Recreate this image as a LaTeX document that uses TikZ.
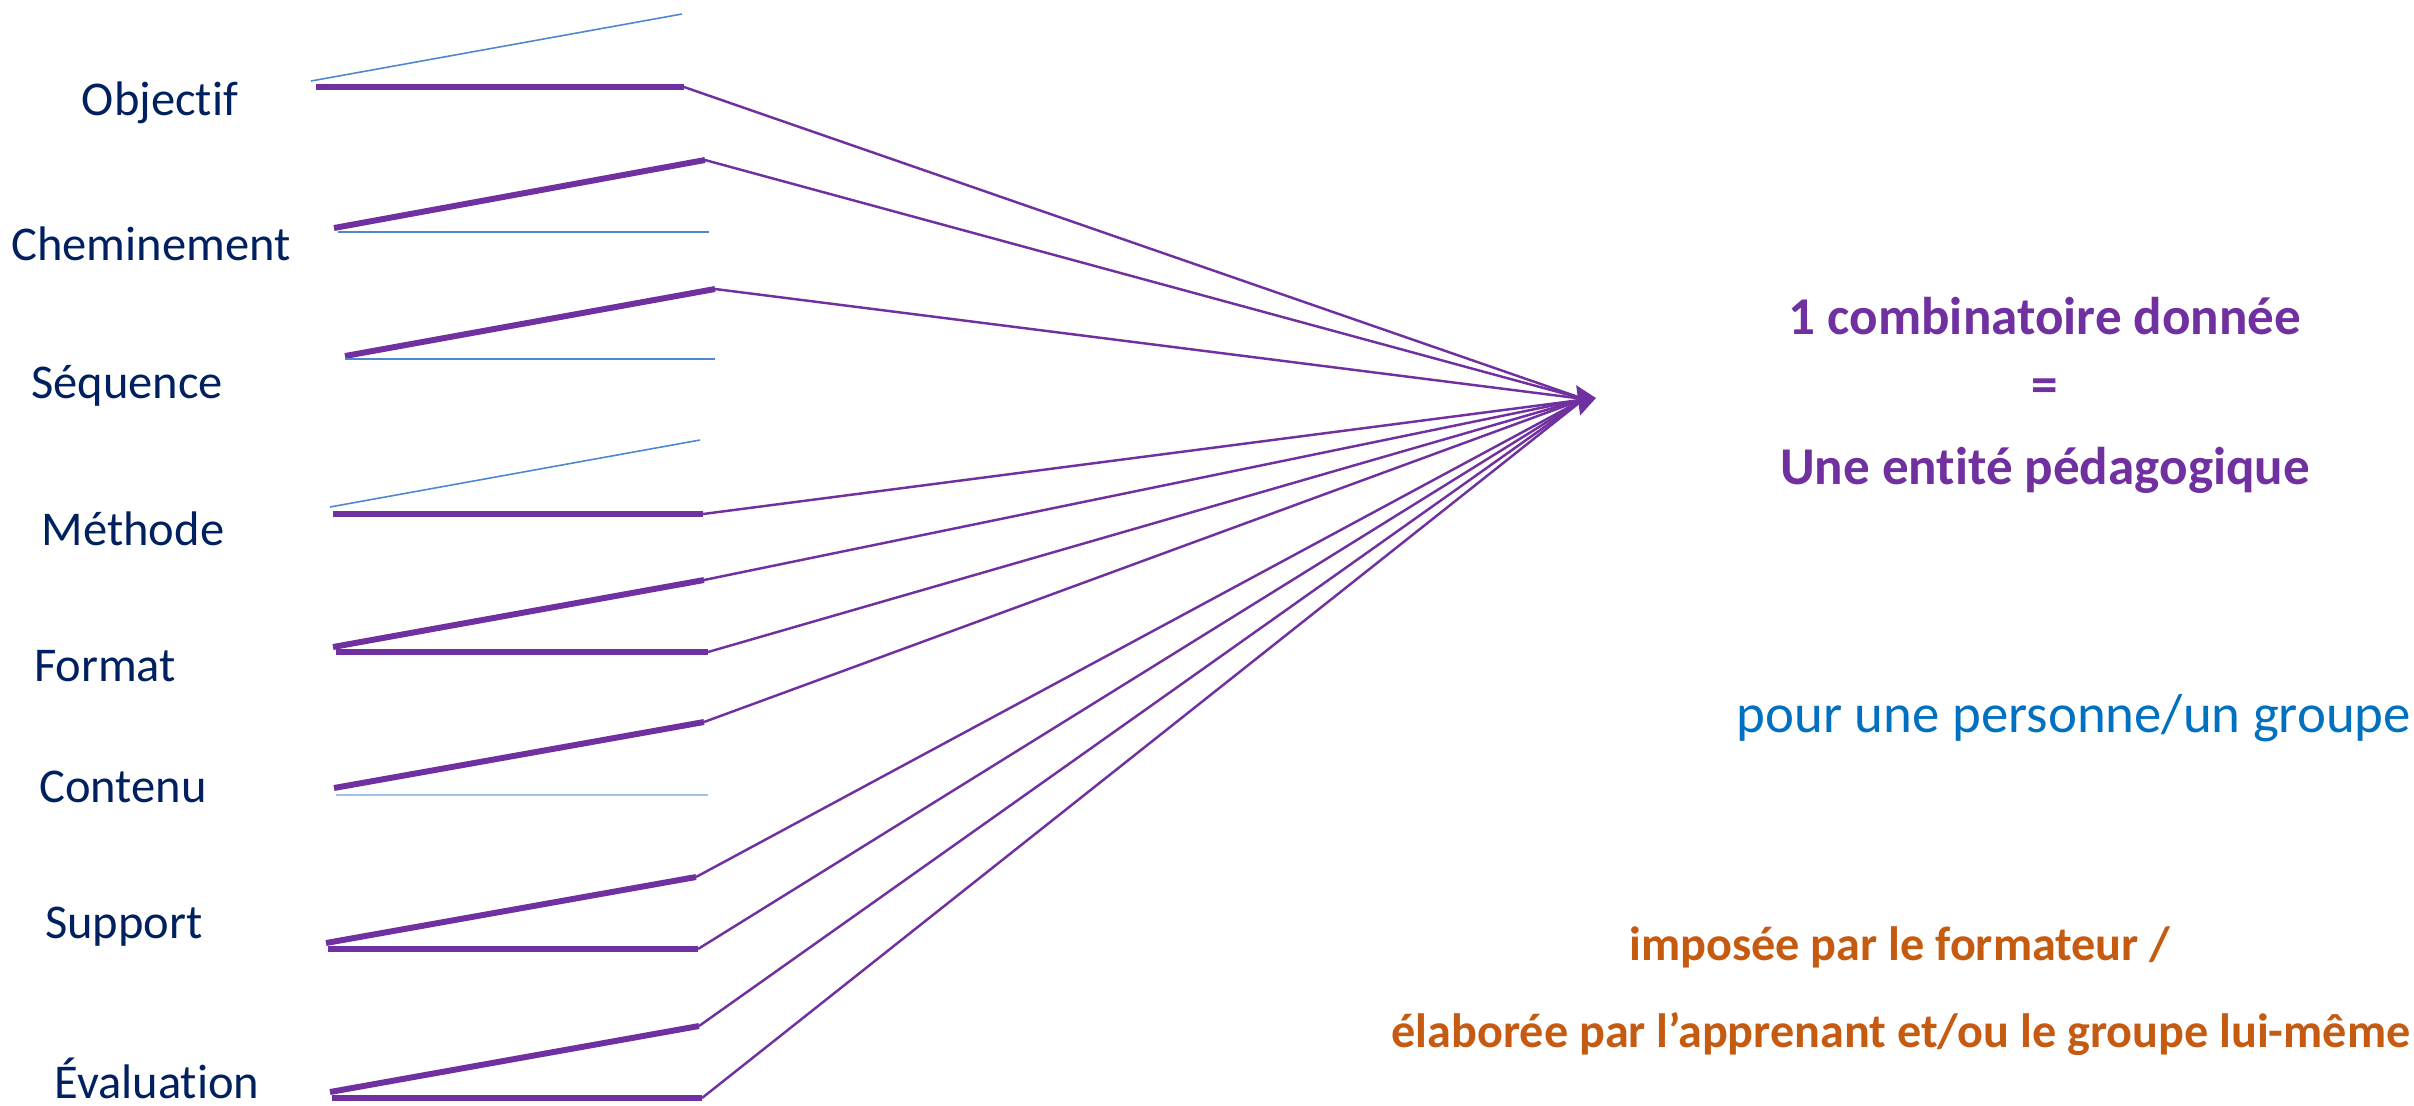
\documentclass[tikz,border=0pt]{standalone}
\usepackage{fontspec}
\setmainfont{Carlito}[Ligatures=NoCommon]
\usetikzlibrary{arrows.meta}

\definecolor{marine}{HTML}{002060}
\definecolor{lilas}{HTML}{7030A0}
\definecolor{bleutexte}{HTML}{0070C0}
\definecolor{bleufil}{HTML}{4F86D0}
\definecolor{bleupale}{HTML}{9DC3E6}
\definecolor{brique}{HTML}{C55A11}

\tikzset{
    etiquette/.style={text=marine, anchor=base, inner sep=0pt, font=\fontsize{13.8}{16}\selectfont},
    titre/.style={text=lilas, anchor=base, inner sep=0pt, font=\bfseries\fontsize{15.1}{18}\selectfont},
    public/.style={text=bleutexte, anchor=base, inner sep=0pt, font=\fontsize{15.6}{18}\selectfont},
    origine/.style={text=brique, anchor=base, inner sep=0pt, font=\bfseries\fontsize{13.7}{16}\selectfont},
    trait/.style={lilas, line width=1.7pt},
    fil/.style={bleufil, line width=0.45pt},
    lien/.style={lilas, line width=0.7pt}
}

\begin{document}
\begin{tikzpicture}[x=0.01cm, y=-0.01cm]
        \useasboundingbox (0,0) rectangle (2414,1105);
        \coordinate (cible) at (1596,398);
        \coordinate (pointe) at (1584,399);
        % Objectif
        \node[etiquette] (objectif) at (160,115) {Objectif};
        \draw[fil] (311,81) -- (682,14);
        \draw[trait] (316,87) -- (684,87) coordinate (objectif-b);
        % Cheminement
        \node[etiquette] (cheminement) at (151,260) {Cheminement};
        \draw[trait] (334,228) -- (705,160) coordinate (cheminement-h);
        \draw[fil] (338,232) -- (709,232);
        % Sequence
        \node[etiquette] (sequence) at (127,398) {Séquence};
        \draw[trait] (345,356) -- (715,289) coordinate (sequence-h);
        \draw[fil] (345,359) -- (715,359);
        % Methode
        \node[etiquette] (methode) at (133,545) {Méthode};
        \draw[fil] (330,507) -- (700,440);
        \draw[trait] (333,514) -- (703,514) coordinate (methode-b);
        % Format
        \node[etiquette] (format) at (105,681) {Format};
        \draw[trait] (333,647) -- (704,580) coordinate (format-h);
        \draw[trait] (336,652) -- (708,652) coordinate (format-b);
        % Contenu
        \node[etiquette] (contenu) at (123,802) {Contenu};
        \draw[trait] (334,788) -- (704,722) coordinate (contenu-h);
        \draw[fil, bleupale, line width=0.8pt] (336,795) -- (708,795);
        % Support
        \node[etiquette] (support) at (124,938) {Support};
        \draw[trait] (326,943) -- (696,877) coordinate (support-h);
        \draw[trait] (328,949) -- (698,949) coordinate (support-b);
        % Evaluation
        \node[etiquette] (evaluation) at (157,1098) {Évaluation};
        \draw[trait] (330,1092) -- (699,1026) coordinate (evaluation-h);
        \draw[trait] (332,1098) -- (702,1098) coordinate (evaluation-b);
        % vers la cible
        \foreach \depart in {objectif-b, cheminement-h, sequence-h, format-h, format-b,
                contenu-h, support-h, support-b, evaluation-h, evaluation-b}
            \draw[lien] (\depart) -- (pointe);
        \draw[lien, -{Triangle[length=1.8mm, width=3mm]}] (methode-b) -- (cible);
        % textes de droite
        \node[titre] (combinatoire) at (2045,334) {1 combinatoire donnée};
        \node[titre] (egal) at (2045,402) {=};
        \node[titre] (entite) at (2045,484) {Une entité pédagogique};
        \node[public] (pour) at (2074,732) {pour une personne/un groupe};
        \node[origine] (imposee) at (1900,960) {imposée par le formateur /};
        \node[origine] (elaboree) at (1901,1047) {élaborée par l’apprenant et/ou le groupe lui-même};
\end{tikzpicture}
\end{document}
